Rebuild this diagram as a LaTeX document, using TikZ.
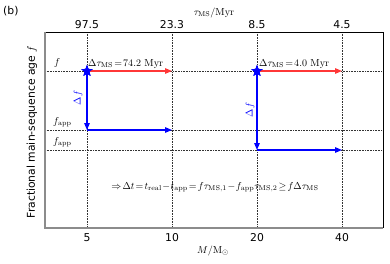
\documentclass[tikz,border=0pt]{standalone}
\usepackage{fontspec}
\newfontfamily\dv{DejaVu Sans}
\usetikzlibrary{shapes.geometric,arrows.meta}
\definecolor{myred}{RGB}{255,55,55}
\definecolor{myblue}{RGB}{0,0,255}
\begin{document}
\begin{tikzpicture}[x=1pt,y=-1pt,
  grid/.style={densely dotted, line width=0.6pt, black!80},
  arr/.style={line width=1.2pt, -{Triangle[length=7pt,width=5.5pt]}},
  tick/.style={font=\dv\fontsize{10.8}{12}\selectfont, inner sep=0pt},
  lab/.style={font=\fontsize{10.2}{12}\selectfont, inner sep=0pt},
  starmark/.style={star, star points=5, star point ratio=2.4, fill=myblue, draw=myblue, inner sep=0pt, minimum size=11pt}]
\useasboundingbox (0,0) rectangle (390,263);
% grid lines
\foreach \x in {87,172,257,342} \draw[grid] (\x,32) -- (\x,228);
\foreach \y in {71,130,150} \draw[grid] (45,\y) -- (383,\y);
% frame
\draw[line width=0.6pt] (45,32) -- (383,32) -- (383,228);
\draw[line width=1.3pt, black!45] (45,32) -- (45,228) -- (383,228);
% left case
\node[starmark] (s1) at (87,71) {};
\coordinate (r1) at (172,71);
\coordinate (d1) at (87,130);
\coordinate (h1) at (172,130);
\draw[arr, myred] (s1.center) -- (r1);
\draw[arr, myblue] (s1.center) -- (d1);
\draw[arr, myblue] (d1) -- (h1);
\node[starmark] at (87,71) {};
% right case
\node[starmark] (s2) at (257,71) {};
\coordinate (r2) at (342,71);
\coordinate (d2) at (257,150);
\coordinate (h2) at (342,150);
\draw[arr, myred] (s2.center) -- (r2);
\draw[arr, myblue] (s2.center) -- (d2);
\draw[arr, myblue] (d2) -- (h2);
\node[starmark] at (257,71) {};
% labels
\node[lab, anchor=base west] (dt1) at (88,66) {$\Delta\tau_{\mathrm{MS}}\!=\!74.2\ \mathrm{Myr}$};
\node[lab, anchor=base west] (dt2) at (259,66) {$\Delta\tau_{\mathrm{MS}}\!=\!4.0\ \mathrm{Myr}$};
\node[lab, myblue, rotate=90] (df1) at (78,98) {$\Delta f$};
\node[lab, myblue, rotate=90] (df2) at (250,110) {$\Delta f$};
\node[lab, anchor=base west] (f) at (54,65) {$f$};
\node[lab, anchor=base west] (fa1) at (53,124) {$f_{\mathrm{app}}$};
\node[lab, anchor=base west] (fa2) at (53,144) {$f_{\mathrm{app}}$};
\node[lab] (eq) at (215,187) {$\Rightarrow\!\Delta t\!=\!t_{\mathrm{real}}\!-\!t_{\mathrm{app}}\!=\!f\tau_{\mathrm{MS,1}}\!-\!f_{\mathrm{app}}\tau_{\mathrm{MS,2}}\!\geq\! f\Delta\tau_{\mathrm{MS}}$};
% top ticks
\node[tick, anchor=base] at (87,28) {97.5};
\node[tick, anchor=base] at (172,28) {23.3};
\node[tick, anchor=base] at (257,28) {8.5};
\node[tick, anchor=base] at (342,28) {4.5};
\node[lab, anchor=base] (tl) at (214,15) {$\tau_{\mathrm{MS}}/\mathrm{Myr}$};
% bottom ticks
\node[tick, anchor=base] at (87,241) {5};
\node[tick, anchor=base] at (172,241) {10};
\node[tick, anchor=base] at (257,241) {20};
\node[tick, anchor=base] at (342,241) {40};
\node[lab, anchor=base] (bl) at (213,253) {$M/\mathrm{M}_{\odot}$};
% y label
\node[tick, rotate=90] (yl) at (32,132) {Fractional main-sequence age $f$};
\node[tick, anchor=base west] (b) at (3,14) {(b)};
\end{tikzpicture}
\end{document}
